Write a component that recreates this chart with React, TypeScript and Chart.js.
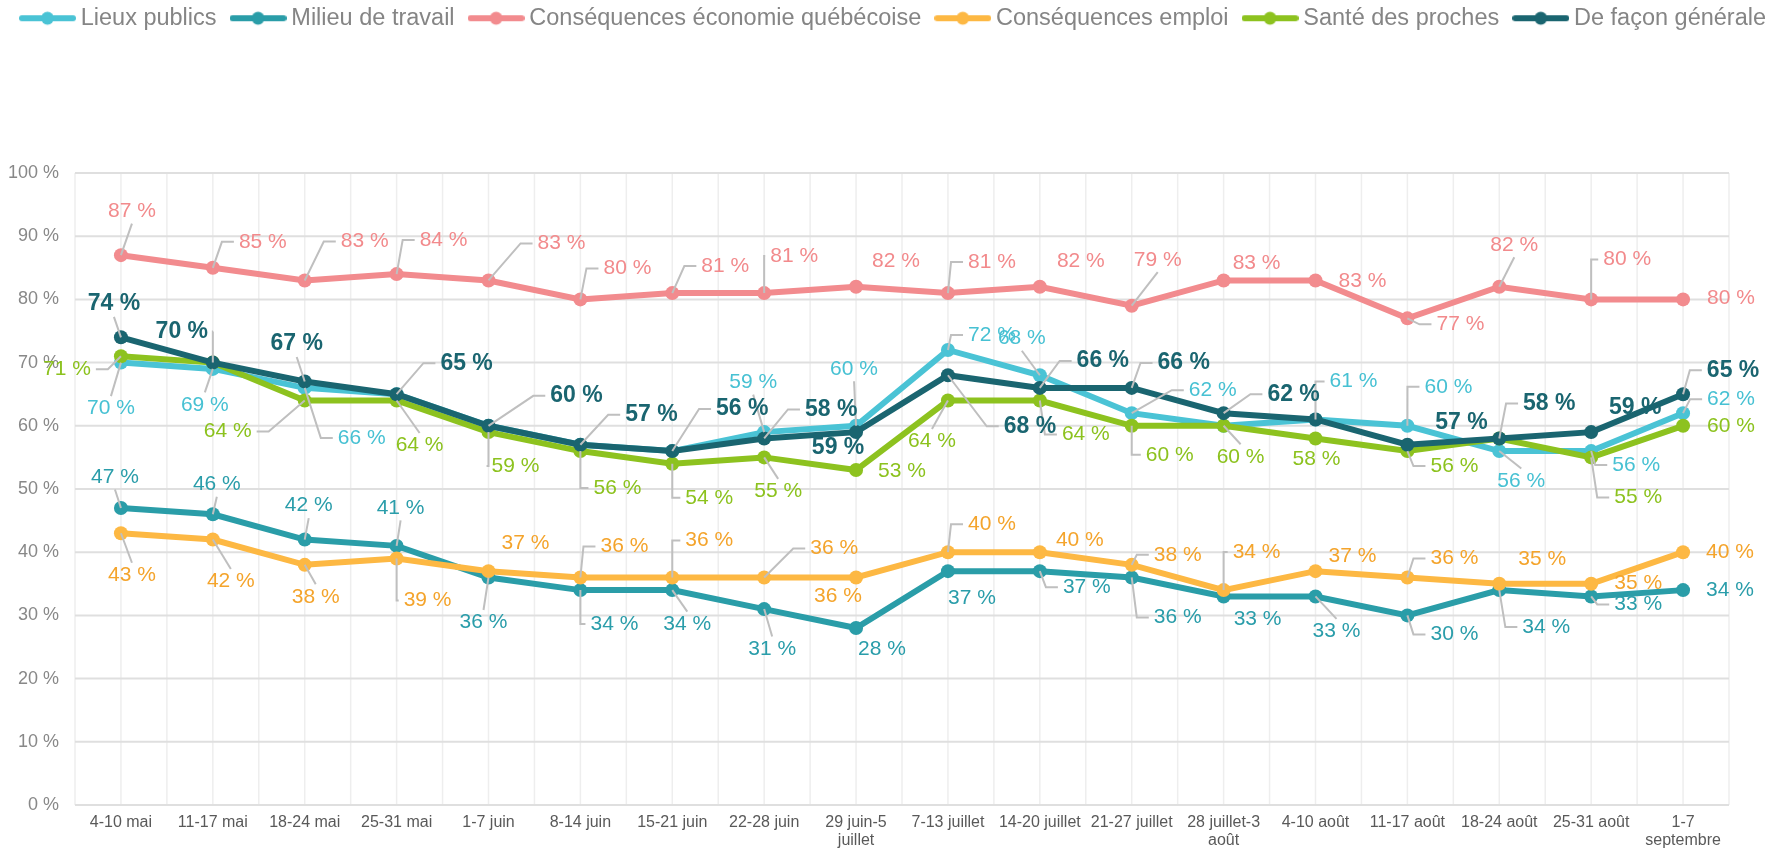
import React, { useEffect, useRef } from 'react';
import { Chart, registerables } from 'chart.js';

Chart.register(...registerables);

const CATEGORIES: (string | string[])[] = [
  '4-10 mai', '11-17 mai', '18-24 mai', '25-31 mai', '1-7 juin', '8-14 juin', '15-21 juin', '22-28 juin',
  ['29 juin-5', 'juillet'], '7-13 juillet', '14-20 juillet', '21-27 juillet', ['28 juillet-3', 'août'],
  '4-10 août', '11-17 août', '18-24 août', '25-31 août', ['1-7', 'septembre'],
];

const SERIES_NAMES = [
  'Lieux publics', 'Milieu de travail', 'Conséquences économie québécoise',
  'Conséquences emploi', 'Santé des proches', 'De façon générale',
];

const LIEUX_PUBLICS = [70, 69, 66, 65, 60, 57, 56, 59, 60, 72, 68, 62, 60, 61, 60, 56, 56, 62];
const MILIEU_TRAVAIL = [47, 46, 42, 41, 36, 34, 34, 31, 28, 37, 37, 36, 33, 33, 30, 34, 33, 34];
const ECONOMIE = [87, 85, 83, 84, 83, 80, 81, 81, 82, 81, 82, 79, 83, 83, 77, 82, 80, 80];
const EMPLOI = [43, 42, 38, 39, 37, 36, 36, 36, 36, 40, 40, 38, 34, 37, 36, 35, 35, 40];
const SANTE = [71, 70, 64, 64, 59, 56, 54, 55, 53, 64, 64, 60, 60, 58, 56, 58, 55, 60];
const GENERALE = [74, 70, 67, 65, 60, 57, 56, 58, 59, 68, 66, 66, 62, 61, 57, 58, 59, 65];

const Y_TICKS = [0, 10, 20, 30, 40, 50, 60, 70, 80, 90, 100];

const LINE_COLORS = ['#4AC3D5', '#2A9DA8', '#F28B8E', '#FDB843', '#8DC21F', '#1A6570'];
const LABEL_COLORS = ['#47C1D3', '#2A9DAA', '#F28A8C', '#F4A42C', '#8CC21E', '#1A6570'];

// label placement: [dx, dy, leader?] relative to the point (null = no label)
type Off = [number, number, number] | null;
const OFF_LIEUX: Off[] = [
  [-10, 46, 1], [-8, 36, 1], [57, 50, 1], null, null, null, null, [-11, -50, 1], [-2, -57, 1],
  [44, -15, 1], [-18, -37, 1], [81, -23, 1], null, [38, -38, 1], [41, -39, 1], [22, 30, 1], [45, 14, 1], [48, -14, 1],
];
const OFF_MILIEU: Off[] = [
  [-6, -31, 1], [4, -30, 1], [4, -34, 1], [4, -38, 1], [-5, 45, 1], [34, 34, 1], [15, 34, 1], [8, 40, 1], [26, 21, 0],
  [24, 27, 0], [47, 16, 1], [46, 40, 1], [34, 23, 0], [21, 35, 1], [47, 19, 1], [47, 37, 1], [47, 8, 1], [47, 0, 0],
];
const OFF_ECONOMIE: Off[] = [
  [11, -44, 1], [50, -26, 1], [60, -39, 1], [47, -34, 1], [73, -37, 1], [47, -31, 1], [53, -27, 1], [30, -37, 1], [40, -26, 0],
  [44, -31, 1], [41, -26, 0], [26, -46, 1], [33, -17, 0], [47, 1, 0], [53, 6, 1], [15, -42, 1], [36, -40, 1], [48, -1, 0],
];
const OFF_EMPLOI: Off[] = [
  [11, 42, 1], [18, 42, 1], [11, 32, 1], [31, 42, 1], [37, -28, 0], [44, -31, 1], [37, -37, 1], [70, -29, 1], [-18, 19, 0],
  [44, -28, 1], [40, -12, 0], [46, -10, 1], [33, -38, 1], [37, -15, 0], [47, -19, 1], [43, -25, 0], [47, -1, 0], [47, 0, 0],
];
const OFF_SANTE: Off[] = [
  [-54, 13, 1], null, [-77, 31, 1], [23, 45, 1], [27, 34, 1], [37, 37, 1], [37, 34, 1], [14, 34, 1], [46, 1, 0],
  [-16, 41, 1], [46, 34, 1], [38, 29, 1], [17, 31, 1], [1, 21, 0], [47, 15, 1], null, [47, 40, 1], [48, 0, 0],
];
const OFF_GENERALE: Off[] = [
  [-7, -34, 1], [-31, -31, 1], [-8, -38, 1], [70, -31, 1], [88, -30, 1], [71, -30, 1], [70, -42, 1], [67, -29, 1], [-18, 16, 0],
  [82, 51, 1], [63, -27, 1], [52, -25, 1], [70, -19, 1], null, [54, -22, 0], [50, -35, 1], [44, -24, 0], [50, -24, 1],
];

const SERIES_DATA = [LIEUX_PUBLICS, MILIEU_TRAVAIL, ECONOMIE, EMPLOI, SANTE, GENERALE];
const LABEL_OFFSETS = [OFF_LIEUX, OFF_MILIEU, OFF_ECONOMIE, OFF_EMPLOI, OFF_SANTE, OFF_GENERALE];

const FONT = "'Liberation Sans', Arial, sans-serif";

function legendMarker(color: string) {
  const c = document.createElement('canvas');
  c.width = 57;
  c.height = 16;
  const g = c.getContext('2d')!;
  g.strokeStyle = color;
  g.lineWidth = 6;
  g.lineCap = 'round';
  g.beginPath();
  g.moveTo(3, 8);
  g.lineTo(54, 8);
  g.stroke();
  g.fillStyle = color;
  g.beginPath();
  g.arc(28.5, 8, 6.5, 0, Math.PI * 2);
  g.fill();
  return c;
}

const gridPlugin = {
  id: 'customGrid',
  beforeDatasetsDraw(chart: any) {
    const { ctx, chartArea } = chart;
    const { top, bottom, left, right } = chartArea;
    const y = chart.scales.y;
    ctx.save();
    ctx.strokeStyle = '#EEEEEE';
    ctx.lineWidth = 1.5;
    const n = CATEGORIES.length;
    const step = (right - left) / n;
    for (let k = 0; k <= 2 * n; k++) {
      const xx = left + (k * step) / 2;
      ctx.beginPath();
      ctx.moveTo(xx, top);
      ctx.lineTo(xx, bottom);
      ctx.stroke();
    }
    ctx.strokeStyle = '#DFDFDF';
    ctx.lineWidth = 2;
    Y_TICKS.forEach((v) => {
      const yy = y.getPixelForValue(v);
      ctx.beginPath();
      ctx.moveTo(left, yy);
      ctx.lineTo(right, yy);
      ctx.stroke();
    });
    ctx.restore();
  },
};

const calloutPlugin = {
  id: 'callouts',
  afterDatasetsDraw(chart: any) {
    const ctx = chart.ctx;
    const items: any[] = [];
    chart.data.datasets.forEach((ds: any, di: number) => {
      const meta = chart.getDatasetMeta(di);
      const bold = di === 5;
      const size = bold ? 23 : 21;
      const font = `${bold ? 'bold ' : ''}${size}px ${FONT}`;
      meta.data.forEach((pt: any, i: number) => {
        const o = LABEL_OFFSETS[di][i];
        if (!o) return;
        const text = `${ds.data[i]} %`;
        ctx.font = font;
        const w = ctx.measureText(text).width;
        items.push({ px: pt.x, py: pt.y, cx: pt.x + o[0], cy: pt.y + o[1], w, h: size, leader: o[2], text, font, color: LABEL_COLORS[di] });
      });
    });
    ctx.save();
    ctx.strokeStyle = '#BFBFBF';
    ctx.lineWidth = 2;
    items.forEach((it) => {
      if (!it.leader) return;
      const left = it.cx - it.w / 2;
      const right = it.cx + it.w / 2;
      const top = it.cy - it.h * 0.5;
      const bottom = it.cy + it.h * 0.5;
      ctx.beginPath();
      if (it.px < left - 3) {
        const end = left - 5;
        const elbow = Math.max(it.px, end - 12);
        ctx.moveTo(it.px, it.py);
        ctx.lineTo(elbow, it.cy);
        ctx.lineTo(end, it.cy);
      } else if (it.px > right + 3) {
        const end = right + 5;
        const elbow = Math.min(it.px, end + 12);
        ctx.moveTo(it.px, it.py);
        ctx.lineTo(elbow, it.cy);
        ctx.lineTo(end, it.cy);
      } else if (it.py > bottom) {
        ctx.moveTo(it.px, it.py);
        ctx.lineTo(it.cx, bottom + 2);
      } else {
        ctx.moveTo(it.px, it.py);
        ctx.lineTo(it.cx, top - 2);
      }
      ctx.stroke();
    });
    ctx.textAlign = 'center';
    ctx.textBaseline = 'middle';
    items.forEach((it) => {
      ctx.font = it.font;
      ctx.fillStyle = it.color;
      ctx.fillText(it.text, it.cx, it.cy);
    });
    ctx.restore();
  },
};

export default function App() {
  const ref = useRef<HTMLCanvasElement>(null);

  useEffect(() => {
    document.body.style.margin = '0';
    const markers = LINE_COLORS.map(legendMarker);
    const chart = new Chart(ref.current!, {
      type: 'line',
      data: {
        labels: CATEGORIES,
        datasets: SERIES_NAMES.map((name, i) => ({
          label: name,
          data: SERIES_DATA[i],
          borderColor: LINE_COLORS[i],
          backgroundColor: LINE_COLORS[i],
          pointBackgroundColor: LINE_COLORS[i],
          pointBorderColor: LINE_COLORS[i],
          pointRadius: 7,
          pointBorderWidth: 0,
          borderWidth: 6,
          tension: 0,
          order: 5 - i,
          yAxisID: 'y',
        })),
      },
      options: {
        animation: false,
        responsive: false,
        devicePixelRatio: 1,
        layout: { padding: { top: -13.5, left: 0, right: 0, bottom: 0 } },
        scales: {
          x: {
            offset: true,
            grid: { display: false, drawTicks: false },
            border: { display: false },
            ticks: {
              autoSkip: false,
              maxRotation: 0,
              minRotation: 0,
              padding: 8,
              color: '#595959',
              font: { size: 16, family: FONT, lineHeight: 1.15 },
            },
            afterFit: (s: any) => { s.height = 49; },
          },
          y: {
            min: 0,
            max: 100,
            grid: { display: false, drawTicks: false },
            border: { display: false },
            ticks: {
              stepSize: 10,
              padding: 16,
              color: '#888888',
              font: { size: 18, family: FONT },
              callback: (v: any) => `${v} %`,
            },
            afterFit: (s: any) => { s.width = 75; },
          },
          yRight: {
            position: 'right',
            min: 0,
            max: 100,
            grid: { display: false, drawTicks: false },
            border: { display: false },
            ticks: { display: false },
            afterFit: (s: any) => { s.width = 63; },
          },
        },
        plugins: {
          legend: {
            position: 'top',
            labels: {
              usePointStyle: true,
              pointStyleWidth: 43,
              padding: 20,
              color: '#858585',
              font: { size: 23.5, family: FONT },
              sort: (a: any, b: any) => a.datasetIndex - b.datasetIndex,
              generateLabels: (c: any) => {
                const base = Chart.defaults.plugins.legend.labels.generateLabels(c);
                return base.map((l: any) => ({ ...l, pointStyle: markers[l.datasetIndex], fontColor: '#858585' }));
              },
            },
          },
          subtitle: {
            display: true,
            text: ' ',
            color: 'rgba(0,0,0,0)',
            font: { size: 10 },
            padding: { top: 121, bottom: 0 },
            weight: 500,
          } as any,
          tooltip: { enabled: false },
        },
      } as any,
      plugins: [gridPlugin, calloutPlugin],
    });
    return () => chart.destroy();
  }, []);

  return (
    <div style={{ width: 1792, height: 854 }}>
      <canvas ref={ref} width={1792} height={854} style={{ display: 'block' }} />
    </div>
  );
}
